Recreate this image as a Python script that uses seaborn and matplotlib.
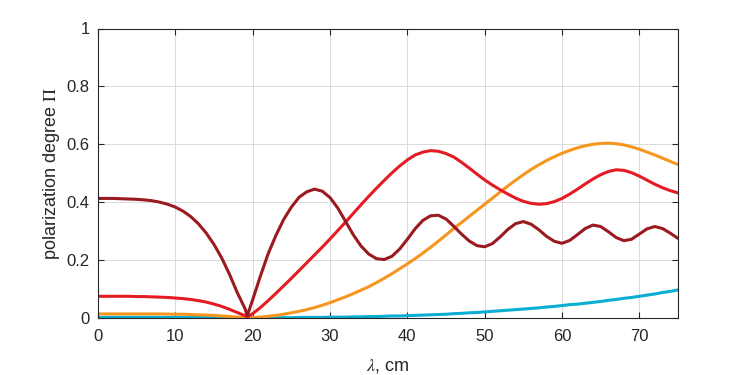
import numpy as np
import pandas as pd
import matplotlib
matplotlib.use("Agg")
import matplotlib.pyplot as plt
import seaborn as sns

# wavelength grid (cm), with an extra sample at the dip near 19.3 cm
lam = list(range(0, 20)) + [19.3] + list(range(20, 76))

# polarization degree, one list per curve
pol_darkred = [0.413, 0.413, 0.413, 0.412, 0.411, 0.410, 0.408, 0.405, 0.400, 0.393,
               0.383, 0.369, 0.350, 0.325, 0.293, 0.254, 0.207, 0.151, 0.088, 0.033,
               0.008,
               0.063, 0.145, 0.222, 0.285, 0.340, 0.383, 0.417, 0.436, 0.445, 0.438,
               0.416, 0.380, 0.334, 0.288, 0.249, 0.221, 0.205, 0.202, 0.213, 0.238,
               0.272, 0.308, 0.337, 0.353, 0.355, 0.342, 0.317, 0.290, 0.266, 0.250,
               0.246, 0.257, 0.280, 0.306, 0.326, 0.333, 0.324, 0.305, 0.282, 0.265,
               0.258, 0.268, 0.288, 0.309, 0.321, 0.316, 0.298, 0.278, 0.267, 0.272,
               0.290, 0.308, 0.316, 0.309, 0.293, 0.275]

pol_red = [0.075, 0.075, 0.075, 0.075, 0.075, 0.074, 0.074, 0.073, 0.072, 0.071,
           0.069, 0.067, 0.064, 0.060, 0.055, 0.048, 0.040, 0.030, 0.019, 0.008,
           0.004,
           0.015, 0.036, 0.060, 0.085, 0.111, 0.137, 0.164, 0.191, 0.218, 0.245,
           0.273, 0.302, 0.331, 0.361, 0.391, 0.420, 0.448, 0.475, 0.501, 0.525,
           0.546, 0.563, 0.573, 0.578, 0.576, 0.568, 0.556, 0.538, 0.518, 0.497,
           0.477, 0.459, 0.443, 0.428, 0.414, 0.403, 0.396, 0.393, 0.395, 0.402,
           0.413, 0.428, 0.445, 0.463, 0.480, 0.495, 0.506, 0.512, 0.510, 0.502,
           0.490, 0.476, 0.462, 0.450, 0.440, 0.432]

pol_orange = [0.014, 0.014, 0.014, 0.014, 0.014, 0.014, 0.014, 0.014, 0.014, 0.0135,
              0.013, 0.013, 0.012, 0.011, 0.010, 0.009, 0.007, 0.005, 0.003, 0.001,
              0.000,
              0.001, 0.003, 0.006, 0.009, 0.013, 0.018, 0.023, 0.029, 0.036, 0.044,
              0.053, 0.063, 0.073, 0.084, 0.096, 0.108, 0.122, 0.137, 0.153, 0.170,
              0.187, 0.205, 0.224, 0.244, 0.265, 0.287, 0.309, 0.330, 0.351, 0.372,
              0.393, 0.414, 0.435, 0.456, 0.476, 0.495, 0.513, 0.529, 0.544, 0.557,
              0.569, 0.579, 0.588, 0.595, 0.600, 0.603, 0.604, 0.602, 0.598, 0.591,
              0.583, 0.573, 0.563, 0.552, 0.541, 0.530]

pol_cyan = [0.002, 0.002, 0.002, 0.002, 0.002, 0.002, 0.002, 0.002, 0.002, 0.002,
            0.002, 0.002, 0.002, 0.002, 0.002, 0.002, 0.001, 0.001, 0.001, 0.000,
            0.000,
            0.000, 0.001, 0.001, 0.001, 0.001, 0.001, 0.002, 0.002, 0.002, 0.002,
            0.003, 0.003, 0.003, 0.004, 0.004, 0.005, 0.005, 0.006, 0.007, 0.007,
            0.008, 0.009, 0.010, 0.011, 0.012, 0.013, 0.015, 0.016, 0.018, 0.019,
            0.021, 0.023, 0.025, 0.027, 0.029, 0.031, 0.033, 0.035, 0.038, 0.040,
            0.043, 0.046, 0.048, 0.051, 0.054, 0.057, 0.061, 0.064, 0.068, 0.071,
            0.075, 0.079, 0.083, 0.088, 0.092, 0.097]

series_names = ["cyan", "orange", "red", "darkred"]
series_colors = ["#0aaed0", "#f7961e", "#e51b24", "#9a1a20"]

df = pd.concat([
    pd.DataFrame({"lam": lam, "pol": vals, "series": name})
    for name, vals in zip(series_names, [pol_cyan, pol_orange, pol_red, pol_darkred])
])

sns.set_style("ticks")
plt.rcParams["font.family"] = ["Liberation Sans", "DejaVu Sans"]
plt.rcParams["mathtext.fontset"] = "stix"
plt.rcParams["lines.solid_joinstyle"] = "round"

fig = plt.figure(figsize=(7.5, 3.75), dpi=100)
ax = fig.add_axes([0.1307, 0.152, 0.7733, 0.772])

sns.lineplot(data=df, x="lam", y="pol", hue="series", hue_order=series_names,
             palette=series_colors, linewidth=2.2, legend=False, errorbar=None, ax=ax)

ax.set_xlim(0, 75)
ax.set_ylim(0, 1)
ax.set_xticks([0, 10, 20, 30, 40, 50, 60, 70])
ax.set_yticks([0, 0.2, 0.4, 0.6, 0.8, 1])
ax.set_yticklabels(["0", "0.2", "0.4", "0.6", "0.8", "1"])
ax.grid(True, color="#dadada", linewidth=0.7)
ax.set_axisbelow(True)

ax.tick_params(direction="in", top=True, right=True, length=4, width=0.8,
               labelsize=12, colors="#262626")
ax.tick_params(axis="x", pad=8)
ax.tick_params(axis="y", pad=6)
for s in ax.spines.values():
    s.set_visible(True)
    s.set_color("#262626")
    s.set_linewidth(0.8)

ax.set_xlabel(r"$\lambda$, cm", fontsize=13, color="#262626", labelpad=9)
ax.set_ylabel(r"polarization degree $\Pi$", fontsize=13, color="#262626", labelpad=3)

fig.savefig("out.png", dpi=100)
